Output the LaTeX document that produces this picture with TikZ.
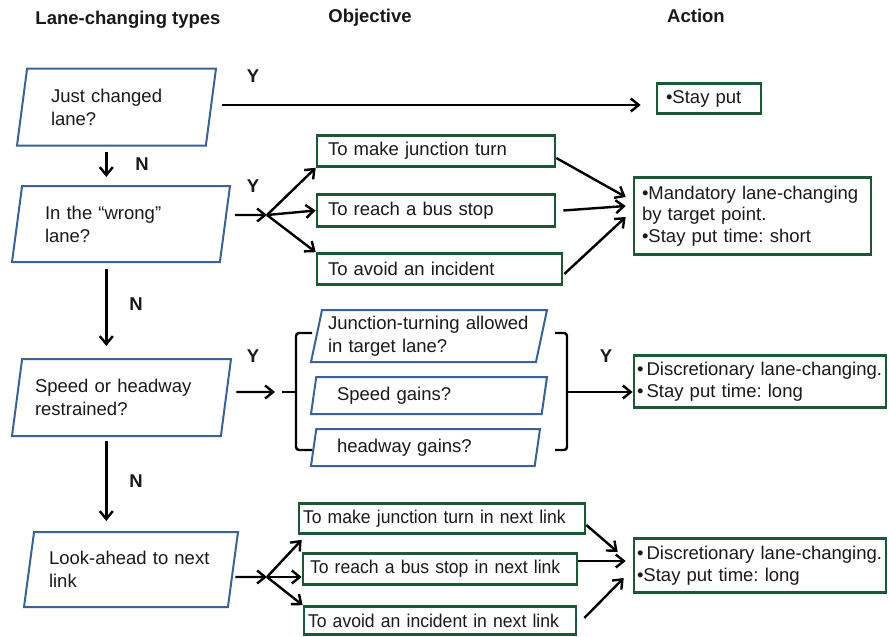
\documentclass[tikz,border=0pt]{standalone}
\usepackage{fontspec}
\setmainfont{Liberation Sans}
\newfontfamily\narrowfont[FakeStretch=0.95]{Liberation Sans}
\usetikzlibrary{shapes,arrows.meta,positioning,calc}

\definecolor{qblue}{RGB}{59,98,150}
\definecolor{boxgreen}{RGB}{28,88,52}

\tikzset{
  every node/.style={font=\fontsize{18.5}{23}\selectfont, text=black!90},
  head/.style={font=\fontsize{18.5}{23}\selectfont\bfseries, anchor=base},
  yn/.style={font=\fontsize{18.5}{23}\selectfont\bfseries, anchor=base},
  question/.style={trapezium, trapezium left angle=76, trapezium right angle=104,
    trapezium stretches body, draw=qblue, line width=2pt, align=left,
    inner xsep=1pt, inner ysep=2pt},
  goal/.style={rectangle, draw=boxgreen, line width=2.6pt, align=left, inner ysep=2pt},
  linkgoal/.style={goal, font=\narrowfont\fontsize{18.5}{23}\selectfont},
  action/.style={goal, font=\fontsize{18.5}{21.5}\selectfont},
  flow/.style={->, line width=2.4pt},
  brace/.style={line width=2.4pt, rounded corners=3pt},
}

\begin{document}
\frenchspacing
\begin{tikzpicture}[x=1pt, y=-1pt, >={Straight Barb[length=8pt,width=13pt]}]
\useasboundingbox (0,0) rectangle (889,637);

\node[head] (hTypes) at (128,24) {Lane-changing types};
\node[head] (hObj) at (370,23) {Objective};
\node[head] (hAct) at (696,23) {Action};

% decision column
\node[question, minimum width=199pt, minimum height=77pt, text width=131pt] (p1) at (116.5,107) {Just changed\\lane?};
\node[question, minimum width=218pt, minimum height=76pt, text width=152pt] (p2) at (121,224) {In the “wrong”\\lane?};
\node[question, minimum width=219pt, minimum height=77pt, text width=173pt] (p3) at (121.5,397.5) {Speed or headway\\restrained?};
\node[question, minimum width=214pt, minimum height=75pt, text width=164pt] (p4) at (131,569.5) {Look-ahead to next\\link};

% objectives
\node[goal, minimum width=238pt, minimum height=31pt, inner xsep=11pt, text width=216pt] (o1) at (436,151) {To make junction turn};
\node[goal, minimum width=238pt, minimum height=32pt, inner xsep=11pt, text width=216pt] (o2) at (436,210.5) {To reach a bus stop};
\node[goal, minimum width=245pt, minimum height=31pt, inner xsep=11pt, text width=223pt] (o3) at (439.5,269) {To avoid an incident};

\node[question, minimum width=236pt, minimum height=52pt, text width=202pt] (q1) at (429,336) {Junction-turning allowed\\in target lane?};
\node[question, minimum width=236pt, minimum height=37pt, text width=184pt] (q2) at (429,395.5) {Speed gains?};
\node[question, minimum width=229pt, minimum height=37pt, text width=177pt] (q3) at (425.5,447.5) {headway gains?};

\node[linkgoal, minimum width=286pt, minimum height=30pt, inner xsep=4pt, text width=278pt] (n1) at (442,518.5) {To make junction turn in next link};
\node[linkgoal, minimum width=274pt, minimum height=31pt, inner xsep=7pt, text width=260pt] (n2) at (440,569) {To reach a bus stop in next link};
\node[linkgoal, minimum width=272pt, minimum height=28pt, inner xsep=4pt, text width=264pt] (n3) at (440,620.5) {To avoid an incident in next link};

% actions
\node[action, minimum width=104pt, minimum height=30pt, inner xsep=9pt, text width=86pt] (a1) at (709,98.5) {•Stay put};
\node[action, minimum width=237pt, minimum height=77pt, inner xsep=8pt, text width=221pt] (a2) at (752.5,216) {•Mandatory lane-changing\\by target point.\\•Stay put time: short};
\node[action, minimum width=252pt, minimum height=52pt, inner xsep=3pt, text width=246pt] (a3) at (760,381.5) {•\,Discretionary lane-changing.\\•\,Stay put time: long};
\node[action, minimum width=252pt, minimum height=54pt, inner xsep=3pt, text width=246pt] (a4) at (760,565.5) {•\,Discretionary lane-changing.\\•Stay put time: long};

\node[yn] (y1) at (253,82) {Y};
\node[yn] (y2) at (253,192) {Y};
\node[yn] (y3) at (253,362) {Y};
\node[yn] (y4) at (606,362) {Y};
\node[yn] (n1lab) at (142,170) {N};
\node[yn] (n2lab) at (136,310) {N};
\node[yn] (n3lab) at (136,487) {N};

\coordinate (f2) at (267,215);
\coordinate (f4) at (267,577);
\coordinate (lb) at (282,392);
\coordinate (rb) at (567,392);

% Y branches
\draw[flow] ($(p1.east)+(10,-2)$) -- ($(p1.east -| a1.west)+(-15,-2)$);
\draw[flow] ($(p2.east)+(9,-9)$) -- (f2);
\draw[flow] (f2) -- (o1.south west);
\draw[flow] (f2) -- (o2.west);
\draw[flow] (f2) -- (o3.north west);
\draw[flow] ($(o1.east)+(0,7)$) -- ($(a2.west)+(-7,-19)$);
\draw[flow] ($(o2.east)+(7,0)$) -- ($(a2.west)+(-7,-10)$);
\draw[flow] ($(o3.east)+(1,5)$) -- ($(a2.west)+(-7,1)$);

\draw[flow] ($(p3.east)+(9.5,-5.5)$) -- ($(lb)+(-7,0)$);
\draw[brace] (312,333) -- (296,333) -- (296,450) -- (312,450);
\draw[brace] (lb) -- (296,392);
\draw[brace] (555,333) -- (567,333) -- (567,450) -- (555,450);
\draw[flow] (rb) -- (rb -| a3.west);

\draw[flow] ($(p4.east)+(1.5,7.5)$) -- (f4);
\draw[flow] (f4) -- ($(n1.south west)+(4,5)$);
\draw[flow] (f4) -- (f4 -| n2.west);
\draw[flow] (f4) -- (n3.north west);
\draw[flow] ($(n1.east)+(0,6.5)$) -- ($(a4.west)+(-15,-13.5)$);
\draw[flow] ($(n2.east)+(0,-8)$) -- ($(a4.west)+(-7,-4.5)$);
\draw[flow] ($(n3.east)+(7,-2.5)$) -- ($(a4.west)+(-9,12.5)$);

% N branches
\draw[flow] ($(p1.south -| p1.bottom side)+(-5,5)$) -- ($(p2.north -| p1.bottom side)+(-5,-8)$);
\draw[flow] ($(p2.south -| p1.bottom side)+(-5,6)$) -- ($(p3.north -| p1.bottom side)+(-5,-12)$);
\draw[flow] ($(p3.south -| p1.bottom side)+(-5,4)$) -- ($(p4.north -| p1.bottom side)+(-5,-10)$);
\end{tikzpicture}
\end{document}
